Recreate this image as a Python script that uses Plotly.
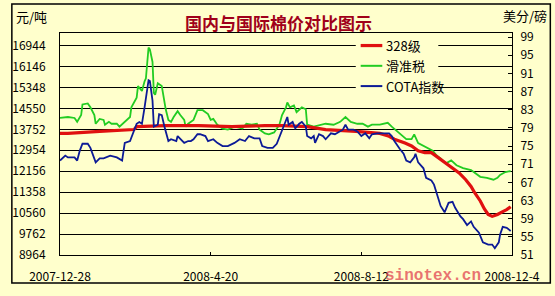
import pandas as pd
import plotly.graph_objects as go

# ---------------- data ----------------
start_date = "2007-12-28"
end_date = "2008-12-04"
x_tick_dates = ["2007-12-28", "2008-04-20", "2008-08-12", "2008-12-04"]
x_tick_text = ["2007-12-28", "2008-4-20", "2008-8-12", "2008-12-4"]

left_ticks = [8964, 9762, 10560, 11358, 12156, 12954, 13752, 14550, 15348, 16146, 16944]
right_ticks = [51, 55, 59, 63, 67, 71, 75, 79, 83, 87, 91, 95, 99]

# 328级 (元/吨) : day offset from start, value
day_328 = [0, 6, 30, 56, 58, 80, 105, 130, 155, 168, 187, 201, 224, 242, 249, 253,
           261, 266, 271, 276, 281, 286, 290, 297, 302, 307, 311, 314, 318, 321,
           324, 327, 331, 335, 338, 341]
val_328 = [13597, 13597, 13671, 13744, 13854, 13891, 13891, 13854, 13891, 13891,
           13854, 13744, 13671, 13597, 13487, 13376, 13229, 13119, 12935, 12862,
           12862, 12678, 12567, 12310, 12089, 11832, 11575, 11317, 11023, 10729,
           10508, 10435, 10508, 10619, 10692, 10803]

# 滑准税 (元/吨)
day_hz = [0, 6, 11, 13, 16, 17, 21, 23, 26, 27, 30, 33, 34, 37, 39, 43, 45, 49, 53,
          54, 58, 59, 62, 64, 65, 67, 68, 70, 71, 72, 74, 77, 78, 80, 82, 84, 86, 89,
          91, 94, 95, 97, 101, 104, 108, 112, 114, 116, 119, 123, 127, 132, 138, 141,
          145, 149, 151, 155, 158, 162, 166, 168, 171, 172, 174, 177, 179, 183, 186,
          187, 192, 197, 201, 207, 212, 216, 220, 225, 229, 233, 236, 242, 248, 251,
          255, 259, 262, 266, 268, 271, 275, 279, 282, 285, 288, 292, 296, 300, 305,
          311, 314, 318, 323, 328, 331, 333, 337, 341]
val_hz = [14185, 14222, 14185, 14038, 14296, 14700, 14737, 14590, 14296, 13965,
          14149, 14112, 13928, 14038, 13965, 13965, 13854, 14038, 14222, 14590,
          14958, 15399, 15215, 15583, 15693, 16870, 16796, 16318, 15141, 15068,
          15509, 15399, 15068, 14516, 14112, 14038, 14222, 14443, 14296, 14112,
          13854, 13965, 14112, 14480, 14480, 14332, 14112, 14149, 13928, 13781,
          13744, 13854, 13781, 13965, 13928, 13965, 13744, 13597, 13560, 13634,
          13928, 14296, 14590, 14774, 14590, 14663, 14406, 14590, 14516, 13928,
          13854, 13928, 13965, 13928, 14038, 14222, 14038, 13965, 13965, 13854,
          13928, 13928, 14001, 13854, 13671, 13487, 13376, 13376, 13560, 13229,
          13119, 13009, 12935, 12751, 12641, 12457, 12567, 12384, 12273, 12200,
          12089, 11942, 11906, 11832, 11906, 12016, 12126, 12163]

# COTA指数 (美分/磅)
day_cota = [0, 4, 6, 11, 13, 15, 17, 21, 23, 26, 27, 30, 33, 38, 43, 47, 49, 53, 58,
            60, 62, 64, 67, 68, 70, 71, 74, 75, 77, 79, 82, 84, 88, 89, 91, 94, 97, 99,
            101, 104, 106, 110, 112, 116, 119, 123, 127, 132, 136, 140, 143, 147, 151,
            153, 157, 161, 164, 167, 170, 172, 173, 176, 178, 181, 183, 186, 187, 190,
            192, 193, 196, 199, 201, 205, 208, 212, 214, 216, 218, 222, 225, 228, 231,
            234, 236, 240, 244, 249, 251, 253, 257, 260, 262, 265, 268, 269, 271, 275,
            277, 281, 283, 286, 288, 291, 294, 297, 299, 303, 305, 308, 311, 313, 317,
            320, 324, 327, 329, 332, 333, 335, 338, 341]
val_cota = [71.8, 72.9, 72.5, 72.5, 71.8, 74.0, 75.5, 75.5, 74.6, 72.3, 71.4, 72.3,
            72.3, 72.9, 72.5, 71.8, 75.7, 76.1, 79.9, 80.3, 79.9, 83.5, 89.5, 89.3,
            85.0, 79.3, 79.7, 82.0, 81.8, 79.3, 76.1, 76.5, 76.1, 77.2, 76.5, 75.7,
            76.1, 76.1, 76.5, 77.6, 77.6, 77.2, 76.1, 76.5, 75.7, 75.0, 75.0, 75.7,
            76.5, 76.1, 77.2, 76.7, 76.7, 75.0, 74.6, 74.6, 75.5, 77.6, 80.1, 81.4,
            79.7, 80.3, 78.9, 79.9, 80.3, 79.3, 77.2, 76.7, 77.2, 75.7, 77.6, 77.2,
            76.5, 77.8, 77.6, 78.2, 78.6, 79.7, 78.6, 78.6, 78.2, 77.2, 77.8, 76.7,
            77.6, 77.8, 77.8, 77.8, 77.2, 76.1, 74.4, 73.3, 71.8, 71.4, 72.5, 73.3,
            71.4, 70.1, 68.0, 67.4, 66.5, 63.8, 61.8, 60.4, 62.5, 62.7, 61.4, 59.5,
            58.9, 57.6, 58.4, 57.2, 55.9, 53.8, 53.3, 53.3, 52.5, 53.8, 55.5, 57.2,
            57.0, 56.3]

# ---------------- figure ----------------
base = pd.Timestamp(start_date)
def to_dates(days):
    return base + pd.to_timedelta(days, unit="D")

BG = "#FFFFCC"
W, H = 555, 296
L, R, T, B = 52, 43, 33, 33
PW, PH = W - L - R, H - T - B

def px(xp):
    return (xp - L) / PW

def py(yp):
    return (H - B - yp) / PH

fig = go.Figure()
fig.add_trace(go.Scatter(x=to_dates(day_hz), y=val_hz, mode="lines", name="滑准税",
                         line=dict(color="#22CC22", width=1.8), yaxis="y"))
fig.add_trace(go.Scatter(x=to_dates(day_cota), y=val_cota, mode="lines", name="COTA指数",
                         line=dict(color="#0C1A96", width=1.8), yaxis="y2"))
fig.add_trace(go.Scatter(x=to_dates(day_328), y=val_328, mode="lines", name="328级",
                         line=dict(color="#E01010", width=3.2), yaxis="y"))

tick_font = dict(family="Noto Sans CJK SC", size=12, color="#000000")

fig.update_layout(
    width=W, height=H,
    margin=dict(l=L, r=R, t=T, b=B, pad=0),
    paper_bgcolor=BG, plot_bgcolor=BG,
    showlegend=False,
    xaxis=dict(type="date", range=[start_date, end_date],
               tickvals=x_tick_dates, ticktext=x_tick_text,
               ticks="inside", ticklen=3, tickcolor="#000",
               ticklabelstandoff=11,
               showgrid=False, zeroline=False,
               showline=True, linecolor="#000", linewidth=1, mirror=True,
               tickfont=tick_font),
    yaxis=dict(range=[8964, 8964 + 798 * 230 / 21.7],
               tickvals=left_ticks, ticktext=[str(v) for v in left_ticks],
               showgrid=True, gridcolor="#000", gridwidth=1,
               ticks="", ticklabelstandoff=11, zeroline=False,
               showline=True, linecolor="#000", linewidth=1,
               tickfont=tick_font),
    yaxis2=dict(range=[51, 99.9], overlaying="y", side="right",
                tickvals=right_ticks, ticktext=[str(v) for v in right_ticks],
                showgrid=False, zeroline=False,
                ticks="inside", ticklen=4, tickcolor="#000",
                ticklabelstandoff=5,
                showline=True, linecolor="#000", linewidth=1,
                tickfont=tick_font),
)

shapes = []
# outer frame
shapes.append(dict(type="rect", xref="paper", yref="paper",
                   x0=px(3), x1=px(551), y0=py(292), y1=py(3),
                   line=dict(color="#000", width=1.5), fillcolor="rgba(0,0,0,0)", layer="above"))
# legend box
shapes.append(dict(type="rect", xref="paper", yref="paper",
                   x0=px(353), x1=px(437), y0=py(98), y1=py(37),
                   line=dict(width=0), fillcolor=BG, layer="above"))
legend_items = [("328级", "#E01010", 3.2, 46), ("滑准税", "#22CC22", 2, 67), ("COTA指数", "#0C1A96", 2, 88)]
annotations = []
for name, col, lw, yy in legend_items:
    shapes.append(dict(type="line", xref="paper", yref="paper",
                       x0=px(358), x1=px(380), y0=py(yy), y1=py(yy),
                       line=dict(color=col, width=lw), layer="above"))
    annotations.append(dict(text=name, xref="paper", yref="paper", x=px(382), y=py(yy),
                            xanchor="left", yanchor="middle", showarrow=False,
                            font=dict(family="Noto Sans CJK SC", size=13, color="#000")))

annotations += [
    dict(text="<b>国内与国际棉价对比图示</b>", xref="paper", yref="paper", x=px(274), y=py(22),
         xanchor="center", yanchor="middle", showarrow=False,
         font=dict(family="Noto Sans CJK SC", size=17, color="#A0001A")),
    dict(text="元/吨", xref="paper", yref="paper", x=px(5), y=py(16),
         xanchor="left", yanchor="middle", showarrow=False,
         font=dict(family="Noto Sans CJK SC", size=13, color="#000")),
    dict(text="美分/磅", xref="paper", yref="paper", x=px(550), y=py(15),
         xanchor="right", yanchor="middle", showarrow=False,
         font=dict(family="Noto Sans CJK SC", size=13, color="#000")),
    dict(text="<b>sinotex.cn</b>", xref="paper", yref="paper", x=px(432), y=py(285),
         xanchor="center", yanchor="middle", showarrow=False,
         font=dict(family="Liberation Mono", size=16, color="rgba(225,70,80,0.75)")),
]

fig.update_layout(shapes=shapes, annotations=annotations)
fig.write_html("out.html")
